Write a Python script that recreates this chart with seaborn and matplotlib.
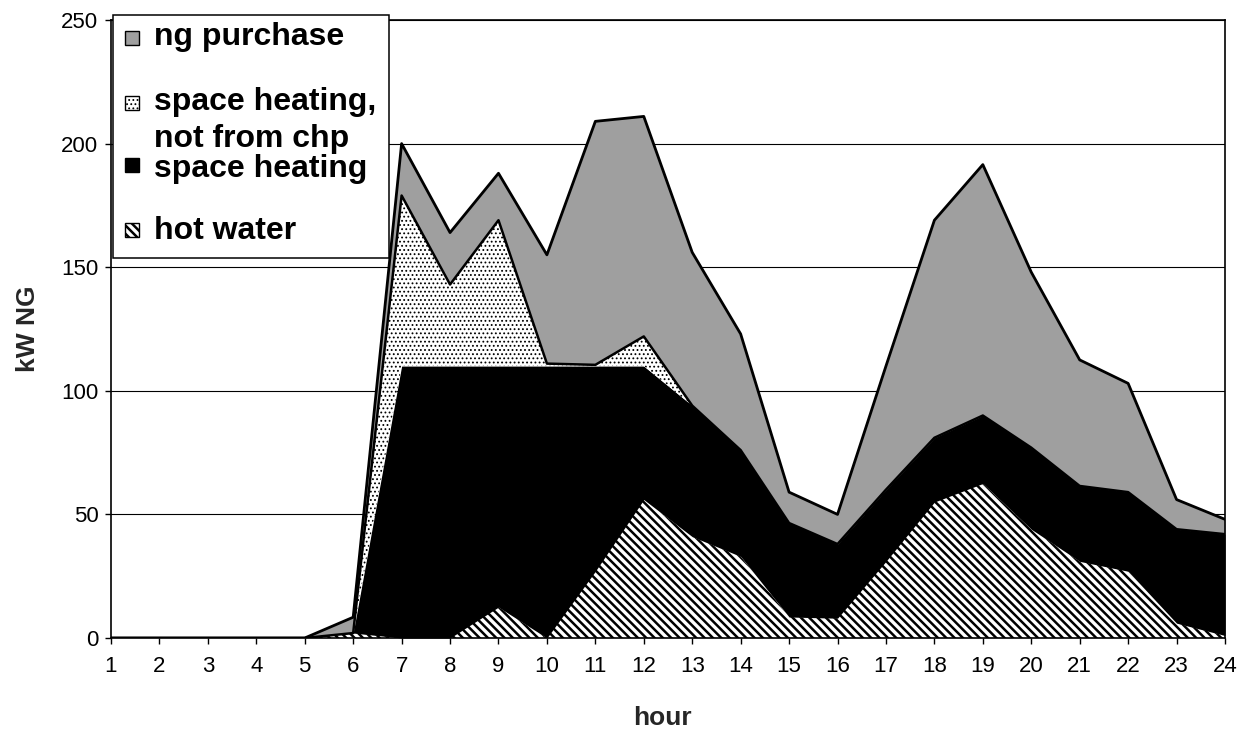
import numpy as np
import pandas as pd
import matplotlib.pyplot as plt
from matplotlib.patches import Rectangle
import seaborn as sns

# ─────────────────────────────────────────
# DATA: kW NG per hour
# ─────────────────────────────────────────
hours = list(range(1, 25))
hot_water = [0, 0, 0, 0, 0, 2, 0, 0, 12.5, 0, 27, 56,
             41, 33, 8.5, 8, 31, 55, 62.5, 44, 31, 27, 6, 1]
space_heating = [0, 0, 0, 0, 0, 0, 110, 110, 97.5, 110, 83, 54,
                 53, 43, 38, 30, 29, 26, 27.5, 33, 30.5, 32, 38, 41]
space_not_chp = [0, 0, 0, 0, 0, 0, 69, 33, 59, 1, 0.5, 12,
                 0, 0, 0, 0, 0, 0, 0, 0, 0, 0, 0, 0]
ng_purchase = [0, 0, 0, 0, 0, 6.4, 21, 21, 19, 44, 98.5, 89,
               62, 47, 12.5, 12, 50, 88, 101.5, 71, 51, 44, 12, 6]
y_ticks = [0, 50, 100, 150, 200, 250]

layers = ["hot water", "space heating", "space heating, not from chp", "ng purchase"]
legend_labels = ["ng purchase", "space heating,\nnot from chp", "space heating", "hot water"]

# ─────────────────────────────────────────
# SETUP
# ─────────────────────────────────────────
W, H = 1247, 736
sns.set_theme(style="white")
plt.rcParams["font.family"] = ["Liberation Sans", "DejaVu Sans"]
plt.rcParams["hatch.linewidth"] = 1.4
plt.rcParams["hatch.color"] = "black"

GRAY = "#9f9f9f"
styles = {
    "hot water": dict(facecolor="white", hatch="\\" * 4, edgecolor="black"),
    "space heating": dict(facecolor="black", edgecolor="black"),
    "space heating, not from chp": dict(facecolor="white", hatch="." * 4, edgecolor="black"),
    "ng purchase": dict(facecolor=GRAY, edgecolor=GRAY),
}
hatch_lw = {"hot water": 1.8, "space heating, not from chp": 0.8}

df = pd.DataFrame({"hour": hours,
                   "hot water": hot_water,
                   "space heating": space_heating,
                   "space heating, not from chp": space_not_chp,
                   "ng purchase": ng_purchase})
tops = df[layers].cumsum(axis=1)

fig = plt.figure(figsize=(W / 100, H / 100), dpi=100)
ax = fig.add_axes([111 / W, 1 - 638 / H, (1225 - 111) / W, 618 / H])

# ─────────────────────────────────────────
# STACKED AREAS
# ─────────────────────────────────────────
bottom = np.zeros(len(df))
for name in layers:
    top = tops[name].to_numpy()
    coll = ax.fill_between(df["hour"], bottom, top, linewidth=0, zorder=2, **styles[name])
    if name in hatch_lw and hasattr(coll, "set_hatch_linewidth"):
        coll.set_hatch_linewidth(hatch_lw[name])
    bottom = top

# black outlines on the dotted layer and on the total
sns.lineplot(x=df["hour"], y=tops["space heating, not from chp"], color="black",
             linewidth=1.8, ax=ax, zorder=3)
sns.lineplot(x=df["hour"], y=tops["ng purchase"], color="black",
             linewidth=2.0, ax=ax, zorder=4)

# ─────────────────────────────────────────
# AXES
# ─────────────────────────────────────────
ax.set_xlim(1, 24)
ax.set_ylim(0, 250)
ax.set_xticks(hours)
ax.set_yticks(y_ticks)
ax.yaxis.grid(True, color="black", linewidth=0.8)
ax.xaxis.grid(False)
ax.set_axisbelow(True)
for spine in ax.spines.values():
    spine.set_visible(True)
    spine.set_color("black")
    spine.set_linewidth(1.2)
ax.tick_params(axis="both", direction="out", length=4, width=1, color="black",
               labelsize=16, labelcolor="black", bottom=True, left=True)
ax.tick_params(axis="x", pad=9)
ax.tick_params(axis="y", pad=5)

ax.set_xlabel("hour", fontsize=19, fontweight="bold", va="center")
ax.xaxis.set_label_coords(0.495, -(718 - 638) / 618)
ax.set_ylabel("kW NG", fontsize=19, fontweight="bold", va="center")
ax.yaxis.set_label_coords((28 - 111) / 1114, 0.5)

# ─────────────────────────────────────────
# LEGEND (Excel style box, top-left)
# ─────────────────────────────────────────
def fx(x):
    return x / W


def fy(y):
    return 1 - y / H


fig.add_artist(Rectangle((fx(113), fy(258)), (389 - 113) / W, (258 - 15) / H,
                         transform=fig.transFigure, facecolor="white",
                         edgecolor="black", linewidth=1.1, zorder=5))

marker_tops = [31, 96, 158, 223]
first_baselines = [45, 110, 177, 239]
for label, mtop, base in zip(legend_labels, marker_tops, first_baselines):
    name = "space heating, not from chp" if label.startswith("space heating,") else label
    st = dict(styles[name])
    if name == "ng purchase":
        st["edgecolor"] = "black"
    patch = Rectangle((fx(125), fy(mtop + 14)), 14 / W, 14 / H,
                      transform=fig.transFigure, linewidth=1.0, zorder=6, **st)
    if name in hatch_lw and hasattr(patch, "set_hatch_linewidth"):
        patch.set_hatch_linewidth(hatch_lw[name])
    fig.add_artist(patch)
    for i, line in enumerate(label.split("\n")):
        fig.text(fx(154), fy(base + 37 * i), line, fontsize=23, fontweight="bold",
                 va="baseline", ha="left", color="black", zorder=7)

plt.savefig("out.png", dpi=100)
plt.close()
